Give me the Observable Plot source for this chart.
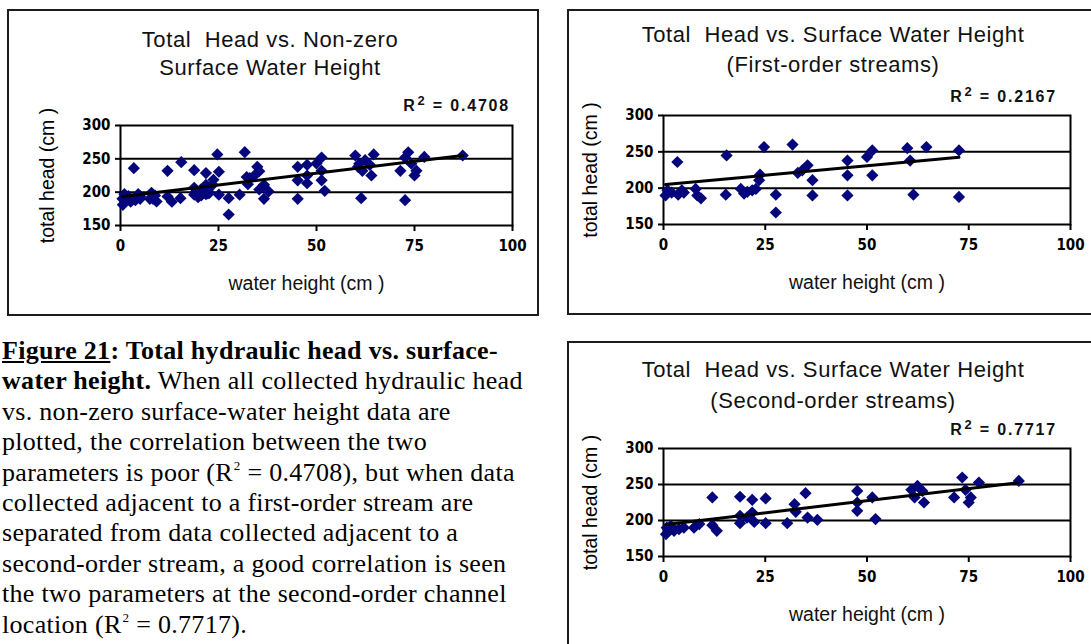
<!DOCTYPE html>
<html>
<head>
<meta charset="utf-8">
<script src="https://cdn.jsdelivr.net/npm/d3@7"></script>
<script src="https://cdn.jsdelivr.net/npm/@observablehq/plot@0.6"></script>
<style>
  html, body { margin: 0; padding: 0; background: #fff; }
  body { position: relative; width: 1091px; height: 644px; overflow: hidden; }
  .box { position: absolute; box-sizing: border-box; border: 2px solid #1c1c1c; background: #fff; }
  .chart { position: absolute; }
  .chart svg { overflow: visible; }
  .chart g[aria-label="x-axis tick label"], .chart g[aria-label="y-axis tick label"] {
    font: bold 15px "Liberation Sans Narrow", "DejaVu Sans Condensed", "Liberation Sans", sans-serif;
  }
  .chart g[aria-label="y-axis label"] {
    font: 19.5px "Liberation Sans", Arial, sans-serif;
  }
  .title { position: absolute; transform: translate(-50%, -50%); white-space: pre;
    font: 22px "Liberation Sans", Arial, sans-serif; color: #111; letter-spacing: 0.6px; }
  .r2 { position: absolute; transform: translate(-100%, -50%); white-space: pre;
    font: bold 16px "Liberation Sans", Arial, sans-serif; letter-spacing: 1.8px; color: #111; }
  .r2 span, .caption span { display: inline-block; }
  .r2 .sup { font-size: 13px; transform: translateY(-6px); margin-left: 1px; }
  .caption { position: absolute; left: 2px; top: 336px; white-space: pre;
    font: 26px "Liberation Serif", "Times New Roman", serif; letter-spacing: 0.3px; color: #000; }
  .caption .line { height: 30.4px; line-height: 30.4px; }
  .caption .b { font-weight: bold; }
  .caption .u { text-decoration: underline; }
  .caption .sup { font-size: 13px; transform: translateY(-11px); margin-left: 1px; }
</style>
</head>
<body>
<div id="page"></div>
<script>
// First-order streams: surface-water height (cm) and total head (cm)
const waterHeightFirst = [0.5, 1, 2, 3.4, 3.6, 4.5, 5, 7.9, 8.3, 9.2, 15.5, 15.3, 19, 19.8, 20.6, 21.8, 22.7, 23.5, 23.7, 24.7,
  27.6, 27.6, 31.7, 33, 34.1, 35.4, 36.6, 36.6, 45.2, 45.2, 45.2, 50, 51.3, 51.3, 59.9, 60.6, 61.4, 64.6, 72.6, 72.6];
const totalHeadFirst = [190, 197, 194, 236, 191, 197, 194, 199, 190, 186, 245, 191, 199, 192.5, 195, 197, 199, 211, 218.6, 256.6,
  191, 166.5, 260, 221, 224.5, 231.4, 211, 190, 238, 217.7, 190, 243, 252, 217.7, 255, 238, 191, 256.6, 252, 188];

// Second-order streams
const waterHeightSecond = [0.6, 0.8, 1.8, 2.6, 3.8, 5, 7.5, 8.8, 12, 12, 13.1, 18.8, 18.8, 18.8, 20.5, 21.8, 21.8, 22.3, 25.1, 25.1,
  30.4, 32.2, 32.5, 34.9, 35.4, 37.8, 47.6, 47.6, 47.6, 51.3, 52.1, 60.9, 61.7, 62.4, 63.6, 64, 71.4, 73.4, 74.2, 75, 75.5, 77.5, 87.3];
const totalHeadSecond = [181, 190, 192.6, 185.6, 188, 190, 190, 195, 232, 193.5, 185.6, 233, 206.5, 196.3, 204, 228.7, 211, 198, 230.6, 196.3,
  196.3, 222.7, 212, 238, 204, 201, 241, 225, 213.4, 232, 202, 242.6, 232, 248, 241, 225, 232, 259.7, 242.6, 225, 232, 252.8, 255];

// Linear trend lines (intercept, slope) and their R² values
const trendAll = [193, 0.71];
const trendFirst = [204.7, 0.52];
const trendSecond = [194, 0.67];
const rSquared = ["0.4708", "0.2167", "0.7717"];

// Axis ticks and gridlines
const xTicks = [0, 25, 50, 75, 100];
const yTicks = [150, 200, 250, 300];
const gridHeads = [200, 250];

const titles = [
  ["Total  Head vs. Non-zero", "Surface Water Height"],
  ["Total  Head vs. Surface Water Height", "(First-order streams)"],
  ["Total  Head vs. Surface Water Height", "(Second-order streams)"]
];

const toPoints = (xs, ys) => xs.map((x, i) => ({x, y: ys[i]}));
const firstPts = toPoints(waterHeightFirst, totalHeadFirst);
const secondPts = toPoints(waterHeightSecond, totalHeadSecond);
const allPts = firstPts.concat(secondPts);

// Panel geometry: outer box and plot-area margins [top, right, bottom, left]
const panels = [
  {pts: allPts, trend: trendAll, r2: rSquared[0], title: titles[0],
   box: {left: 7, top: 9, width: 532, height: 307}, margin: [116, 27, 91, 113],
   titleX: 270, titleY: [40, 68], r2Pos: [510, 106], xLabelDx: -10},
  {pts: firstPts, trend: trendFirst, r2: rSquared[1], title: titles[1],
   box: {left: 567, top: 9, width: 532, height: 306}, margin: [106, 29, 91, 96],
   titleX: 833, titleY: [35, 65], r2Pos: [1057, 97], xLabelDx: 0},
  {pts: secondPts, trend: trendSecond, r2: rSquared[2], title: titles[2],
   box: {left: 567, top: 341, width: 532, height: 306}, margin: [107, 29, 91, 96],
   titleX: 833, titleY: [370, 401], r2Pos: [1057, 430], xLabelDx: 0}
];

const page = document.getElementById("page");

function add(parent, tag, cls, style, text) {
  const el = document.createElement(tag);
  if (cls) el.className = cls;
  Object.assign(el.style, style || {});
  if (text != null) el.textContent = text;
  parent.appendChild(el);
  return el;
}

for (const p of panels) {
  const {left, top, width, height} = p.box;
  add(page, "div", "box", {left: left + "px", top: top + "px", width: width + "px", height: height + "px"});

  const [x0, x1] = d3.extent(p.pts, d => d.x);
  const fitLine = [x0, x1].map(x => ({x, y: p.trend[0] + p.trend[1] * x}));

  const chart = Plot.plot({
    width, height,
    marginTop: p.margin[0], marginRight: p.margin[1], marginBottom: p.margin[2], marginLeft: p.margin[3],
    style: {background: "transparent", color: "#000"},
    x: {domain: [0, 100]},
    y: {domain: [150, 300]},
    marks: [
      Plot.ruleY(gridHeads, {stroke: "#000", strokeWidth: 2}),
      Plot.frame({stroke: "#000", strokeWidth: 2}),
      Plot.axisX({ticks: xTicks, tickSize: 6, tickPadding: 9, strokeWidth: 2, label: null}),
      Plot.text(["water height (cm )"], {frameAnchor: "bottom", dy: 64, dx: p.xLabelDx,
        fontSize: 19.5, fontFamily: "Liberation Sans, Arial, sans-serif", fill: "#111"}),
      Plot.axisY({ticks: yTicks, tickSize: 5, tickPadding: 5, strokeWidth: 2,
        label: "total head (cm )", labelAnchor: "center", labelArrow: "none", labelOffset: 80}),
      Plot.dot(p.pts, {x: "x", y: "y", symbol: "diamond2", r: 5.5, fill: "#05057c", stroke: "none"}),
      Plot.line(fitLine, {x: "x", y: "y", stroke: "#000", strokeWidth: 3})
    ]
  });
  const holder = add(page, "div", "chart", {left: left + "px", top: top + "px", width: width + "px", height: height + "px"});
  holder.appendChild(chart);

  p.title.forEach((t, i) => add(page, "div", "title", {left: p.titleX + "px", top: p.titleY[i] + "px"}, t));
  const r2 = add(page, "div", "r2", {left: p.r2Pos[0] + "px", top: p.r2Pos[1] + "px"});
  add(r2, "span", "", {}, "R");
  add(r2, "span", "sup", {}, "2");
  add(r2, "span", "", {}, " = " + p.r2);
}

// Figure caption, one array of styled runs per line
const captionLines = [
  [["Figure 21", "b u"], [": Total hydraulic head vs. surface-", "b"]],
  [["water height.", "b"], [" When all collected hydraulic head", ""]],
  [["vs. non-zero surface-water height data are", ""]],
  [["plotted, the correlation between the two", ""]],
  [["parameters is poor (R", ""], ["2", "sup"], [" = " + rSquared[0] + "), but when data", ""]],
  [["collected adjacent to a first-order stream are", ""]],
  [["separated from data collected adjacent to a", ""]],
  [["second-order stream, a good correlation is seen", ""]],
  [["the two parameters at the second-order channel", ""]],
  [["location (R", ""], ["2", "sup"], [" = " + rSquared[2] + ").", ""]]
];
const caption = add(page, "div", "caption");
for (const runs of captionLines) {
  const line = add(caption, "div", "line");
  for (const [text, cls] of runs) add(line, "span", cls, {}, text);
}
</script>
</body>
</html>
